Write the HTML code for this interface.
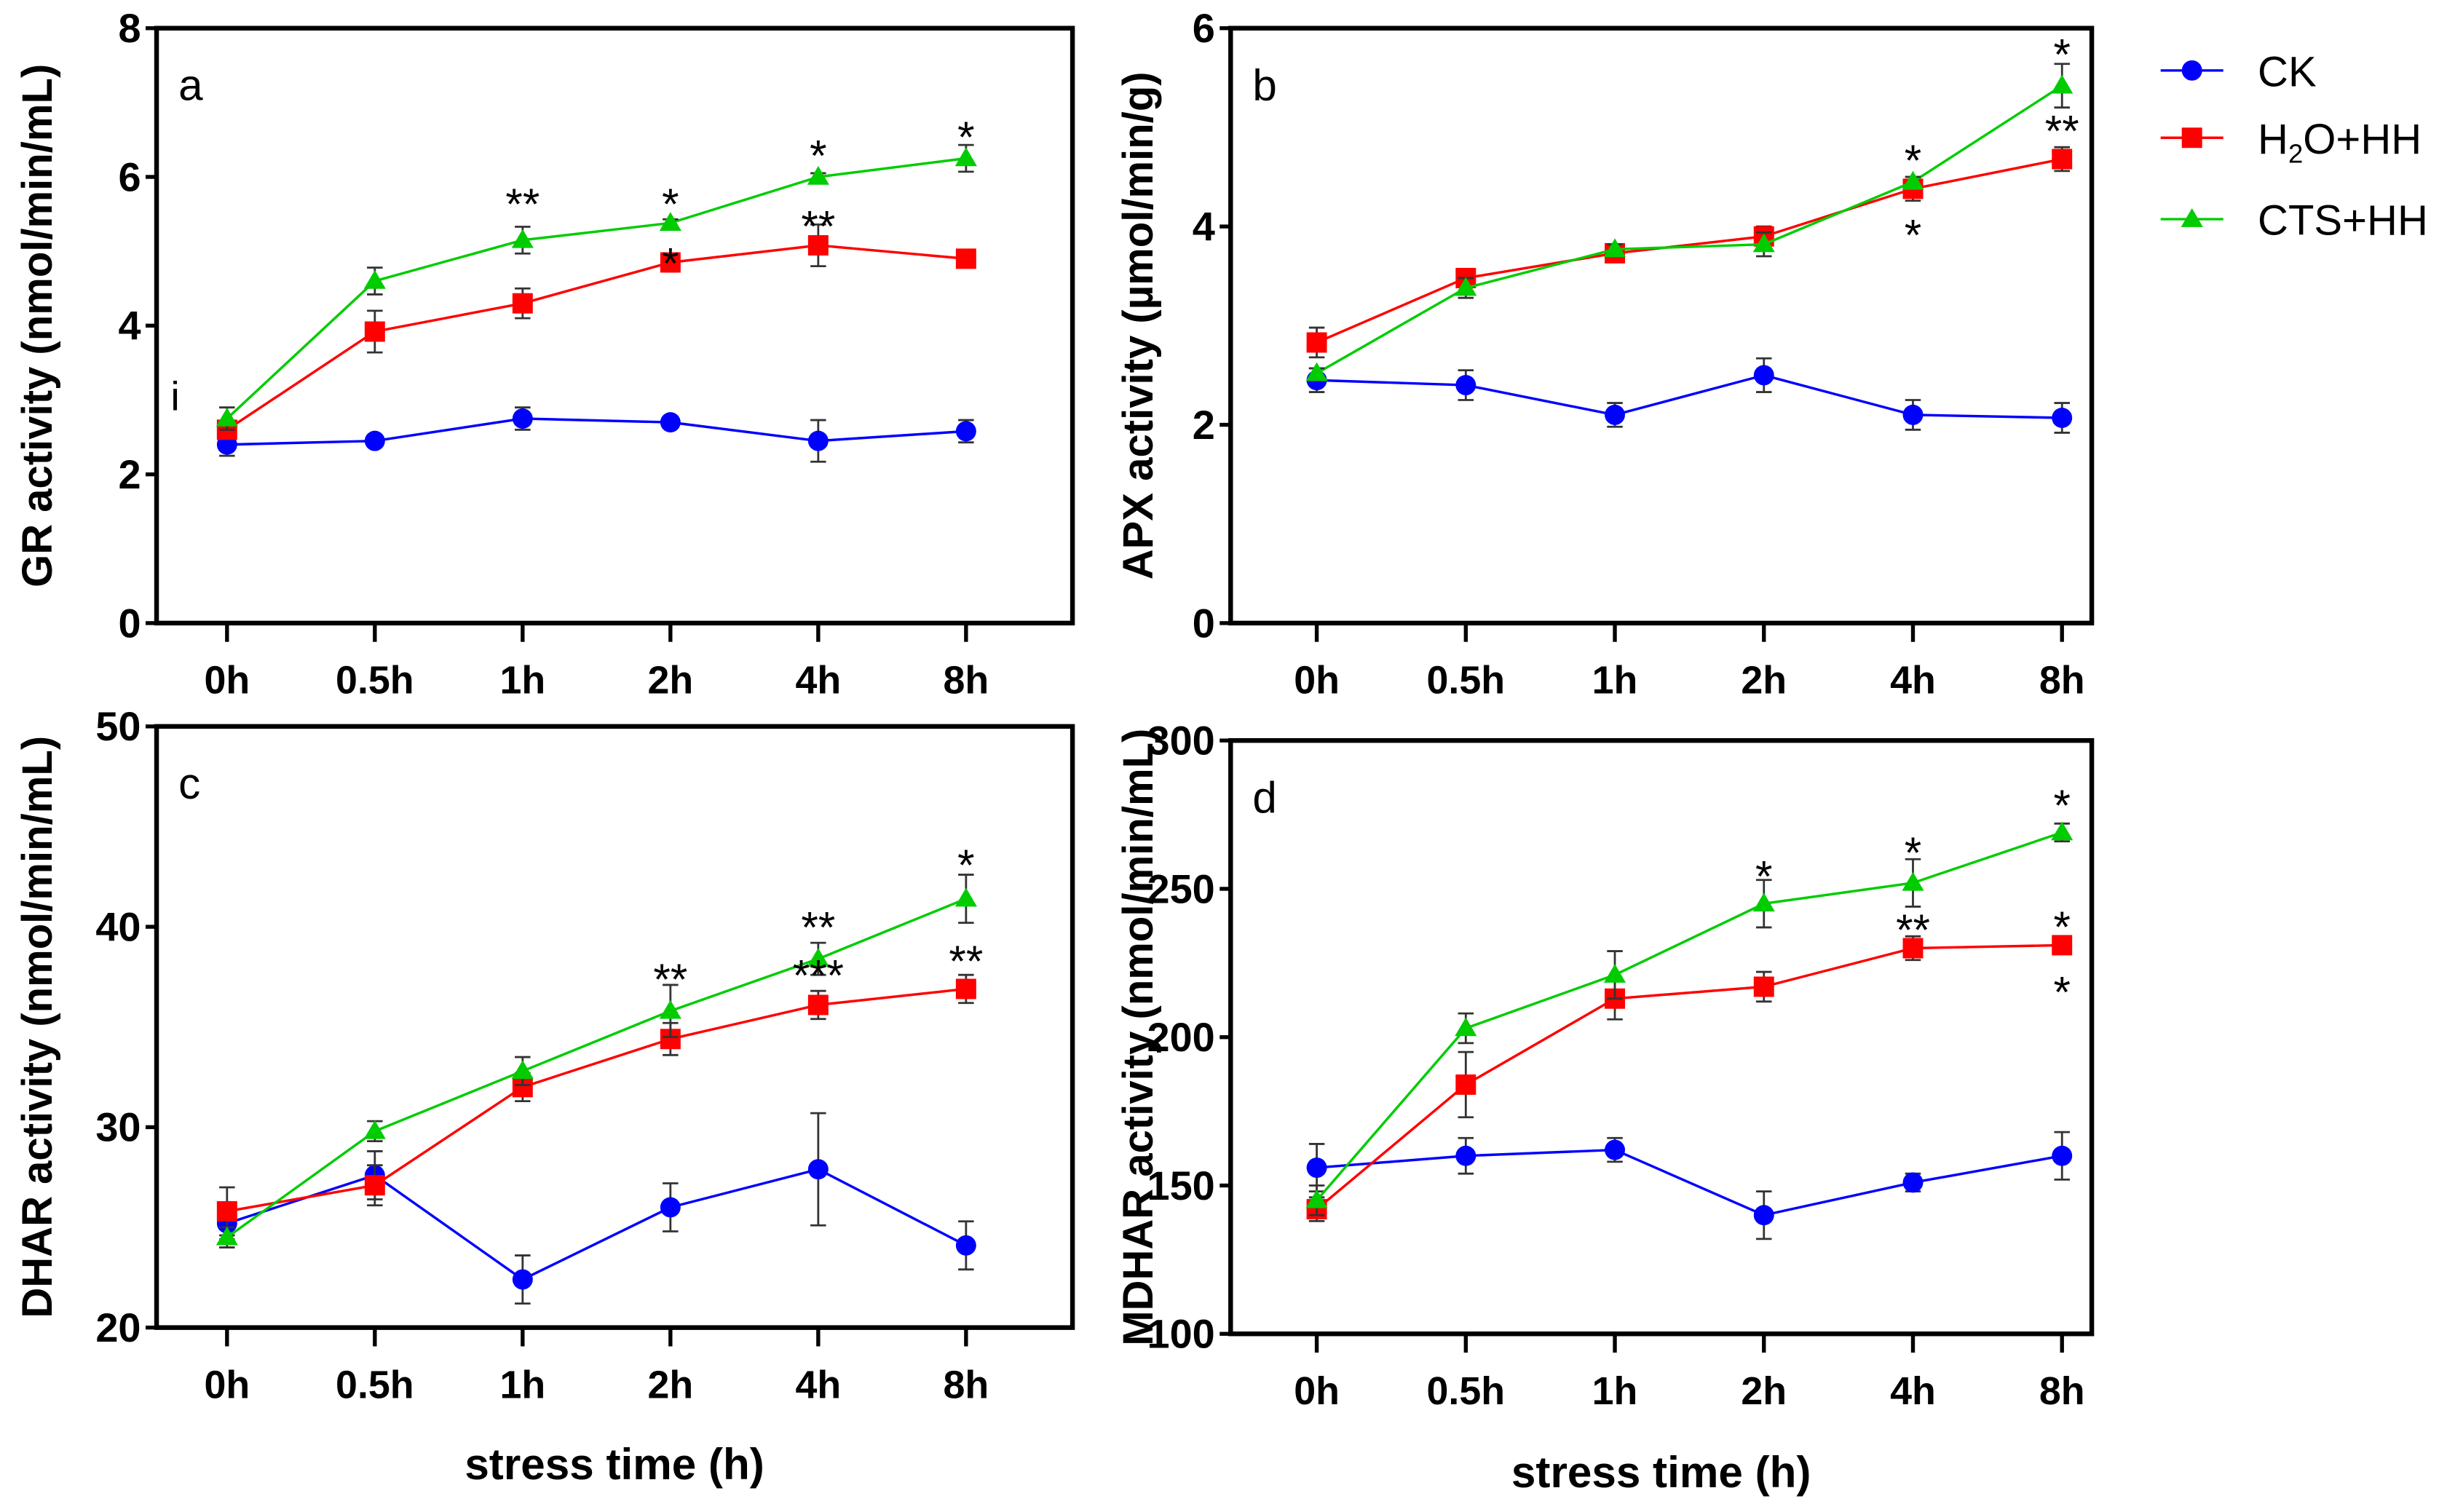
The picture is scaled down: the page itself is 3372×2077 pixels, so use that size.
<!DOCTYPE html>
<html><head><meta charset="utf-8"><style>
html,body{margin:0;padding:0;background:#fff}
svg{display:block}
text{font-family:"Liberation Sans",Arial,sans-serif}
</style></head><body>
<svg id="fig" width="3372" height="2077" viewBox="0 0 1568 965.8" xmlns="http://www.w3.org/2000/svg"></svg>
<script>
const categories=["0h","0.5h","1h","2h","4h","8h"];
const seriesNames=["CK","H₂O+HH","CTS+HH"];
const colors=["#0000ff","#ff0000","#00cc00"];
// panel a
const aCK=[2.4,2.45,2.75,2.7,2.45,2.58], aCKe=[0.15,0.05,0.15,0.05,0.28,0.15];
const aH2O=[2.6,3.92,4.3,4.85,5.08,4.9], aH2Oe=[0.1,0.28,0.2,0.08,0.28,0.05];
const aCTS=[2.75,4.6,5.15,5.38,6.0,6.25], aCTSe=[0.15,0.18,0.18,0.05,0.05,0.18];
const aTicks=[0,2,4,6,8];
// panel b
const bCK=[2.45,2.4,2.1,2.5,2.1,2.07], bCKe=[0.12,0.15,0.12,0.17,0.15,0.15];
const bH2O=[2.83,3.48,3.73,3.9,4.38,4.68], bH2Oe=[0.15,0.08,0.08,0.1,0.12,0.12];
const bCTS=[2.52,3.38,3.77,3.82,4.45,5.42], bCTSe=[0.05,0.1,0.05,0.12,0.05,0.22];
const bTicks=[0,2,4,6];
// panel c
const cCK=[25.2,27.6,22.4,26,27.9,24.1], cCKe=[0.8,1.2,1.2,1.2,2.8,1.2];
const cH2O=[25.8,27.1,32,34.4,36.1,36.9], cH2Oe=[1.2,1.0,0.7,0.8,0.7,0.7];
const cCTS=[24.5,29.8,32.8,35.8,38.4,41.4], cCTSe=[0.5,0.5,0.7,1.3,0.8,1.2];
const cTicks=[20,30,40,50];
// panel d
const dCK=[156,160,162,140,151,160], dCKe=[8,6,4,8,3,8];
const dH2O=[142,184,213,217,230,231], dH2Oe=[4,11,7,5,4,3];
const dCTS=[145,203,221,245,252,269], dCTSe=[5,5,8,8,8,3];
const dTicks=[100,150,200,250,300];

const NS="http://www.w3.org/2000/svg";
const svg=document.getElementById('fig');
function el(tag,attrs,parent,txt){const e=document.createElementNS(NS,tag);for(const k in attrs)e.setAttribute(k,attrs[k]);if(txt!==undefined)e.textContent=txt;(parent||svg).appendChild(e);return e;}

function panel(cfg){
  const g=el('g',{});
  
  
  const {L,R,T,B,min,max}=cfg;
  const y=v=>B-(v-min)/(max-min)*(B-T);
  const x=i=>cfg.xs0+i*(cfg.xs1-cfg.xs0)/5;
  const box=el('rect',{x:L,y:T,width:R-L,height:B-T,fill:'none',stroke:'#000','stroke-width':3},g);
  
  
  cfg.ticks.forEach(t=>{
    el('line',{x1:L-7,x2:L,y1:y(t),y2:y(t),stroke:'#000','stroke-width':2.5},g);
    const tl=el('text',{x:L-10,y:y(t)+9,'text-anchor':'end','font-size':26,'font-weight':'bold'},g,t);
    
    
  });
  categories.forEach((c,i)=>{
    el('line',{x1:x(i),x2:x(i),y1:B,y2:B+12,stroke:'#000','stroke-width':2.5},g);
    const tl=el('text',{x:x(i),y:B+45,'text-anchor':'middle','font-size':25,'font-weight':'bold'},g,c);
    
    
  });
  const yt=el('text',{transform:`translate(${cfg.ylx},${(T+B)/2}) rotate(-90)`,'text-anchor':'middle','font-size':27,'font-weight':'bold'},g,cfg.ylabel);
  
  
  const lt=el('text',{x:L+14,y:T+46,'font-size':28},g,cfg.letter);
  
  
  cfg.series.forEach((s,si)=>{
    const col=colors[si];
    const sg=el('g',{},g);
    
    
    el('polyline',{points:s.v.map((v,i)=>x(i)+','+y(v)).join(' '),fill:'none',stroke:col,'stroke-width':1.6},sg);
    s.v.forEach((v,i)=>{
      const e=s.e[i],cx=x(i);
      el('path',{d:`M${cx},${y(v+e)}V${y(v-e)}M${cx-5},${y(v+e)}H${cx+5}M${cx-5},${y(v-e)}H${cx+5}`,stroke:'#333','stroke-width':1.3,fill:'none'},sg);
      let m;
      if(si===0)m=el('circle',{cx:cx,cy:y(v),r:6.5,fill:col},sg);
      else if(si===1)m=el('rect',{x:cx-6.5,y:y(v)-6.5,width:13,height:13,fill:col},sg);
      else m=el('path',{d:`M${cx},${y(v)-7}L${cx+7},${y(v)+5}L${cx-7},${y(v)+5}Z`,fill:col},sg);
      
      
    });
  });
  (cfg.stars||[]).forEach(s=>{
    const st=el('text',{x:x(s[0]),y:y(s[1])+15,'text-anchor':'middle','font-size':28},g,s[2]);
    
    
  });
  if(cfg.xtitle){
    const xt=el('text',{x:(L+R)/2,y:cfg.xty,'text-anchor':'middle','font-size':28,'font-weight':'bold'},g,'stress time (h)');
    
    
  }
  return y;
}

panel({letter:'a',L:100,R:685,T:18,B:398,min:0,max:8,xs0:145,xs1:617,ticks:aTicks,ylx:33,
  ylabel:'GR activity (nmol/min/mL)',
  series:[{v:aCK,e:aCKe},{v:aH2O,e:aH2Oe},{v:aCTS,e:aCTSe}],
  stars:[[2,5.75,'**'],[3,5.75,'*'],[3,4.95,'*'],[4,6.4,'*'],[4,5.45,'**'],[5,6.65,'*']]});
const iT=el('text',{x:109,y:262,'font-size':26},svg,'i');



panel({letter:'b',L:786,R:1336,T:18,B:398,min:0,max:6,xs0:841,xs1:1317,ticks:bTicks,ylx:736,
  ylabel:'APX activity (µmol/min/g)',
  series:[{v:bCK,e:bCKe},{v:bH2O,e:bH2Oe},{v:bCTS,e:bCTSe}],
  stars:[[4,4.75,'*'],[4,4.0,'*'],[5,5.82,'*'],[5,5.05,'**']]});

panel({letter:'c',L:100,R:685,T:464,B:848,min:20,max:50,xs0:145,xs1:617,ticks:cTicks,ylx:33,
  ylabel:'DHAR activity (nmol/min/mL)',xtitle:true,xty:945,
  series:[{v:cCK,e:cCKe},{v:cH2O,e:cH2Oe},{v:cCTS,e:cCTSe}],
  stars:[[3,37.8,'**'],[4,40.4,'**'],[4,38,'***'],[5,43.5,'*'],[5,38.7,'**']]});

panel({letter:'d',L:786,R:1336,T:473,B:852,min:100,max:300,xs0:841,xs1:1317,ticks:dTicks,ylx:736,
  ylabel:'MDHAR activity (nmol/min/mL)',xtitle:true,xty:950,
  series:[{v:dCK,e:dCKe},{v:dH2O,e:dH2Oe},{v:dCTS,e:dCTSe}],
  stars:[[3,257,'*'],[4,265,'*'],[4,239,'**'],[5,281,'*'],[5,240,'*'],[5,218,'*']]});

// legend
const lg=el('g',{});


[45,88,140].forEach((ly,i)=>{
  const eg=el('g',{},lg);
  
  
  el('line',{x1:1380,x2:1420,y1:ly,y2:ly,stroke:colors[i],'stroke-width':1.6},eg);
  if(i===0)el('circle',{cx:1400,cy:ly,r:6.5,fill:colors[i]},eg);
  else if(i===1)el('rect',{x:1393.5,y:ly-6.5,width:13,height:13,fill:colors[i]},eg);
  else el('path',{d:`M1400,${ly-7}L1407,${ly+5}L1393,${ly+5}Z`,fill:colors[i]},eg);
  const t=el('text',{x:1442,y:ly+10,'font-size':27},eg);
  if(i===1){t.innerHTML='H<tspan font-size="17" dy="6">2</tspan><tspan dy="-6">O+HH</tspan>';}
  else t.textContent=seriesNames[i];
});
</script>
</body></html>
